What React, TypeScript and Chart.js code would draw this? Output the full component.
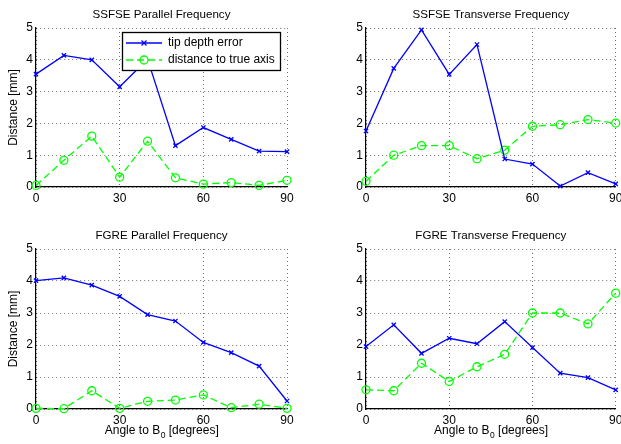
import React, { useEffect, useRef } from "react";
import { Chart, registerables } from "chart.js";

Chart.register(...registerables);

const ANGLES = [0, 10, 20, 30, 40, 50, 60, 70, 80, 90];
const X_TICKS = [0, 30, 60, 90];
const Y_TICKS = [0, 1, 2, 3, 4, 5];

const SERIES_NAMES = ["tip depth error", "distance to true axis"];
const TITLES = [
  "SSFSE Parallel Frequency",
  "SSFSE Transverse Frequency",
  "FGRE Parallel Frequency",
  "FGRE Transverse Frequency",
];
const Y_LABEL = "Distance [mm]";
const X_LABEL_MAIN = "Angle to B";
const X_LABEL_SUB = "0";
const X_LABEL_REST = " [degrees]";

const SSFSE_PAR_TIP = [3.55, 4.14, 4.0, 3.15, 4.02, 1.3, 1.87, 1.5, 1.13, 1.11];
const SSFSE_PAR_DIST = [0.05, 0.84, 1.6, 0.31, 1.44, 0.29, 0.09, 0.14, 0.05, 0.21];
const SSFSE_TRA_TIP = [1.76, 3.73, 4.94, 3.54, 4.48, 0.88, 0.72, 0.03, 0.45, 0.1];
const SSFSE_TRA_DIST = [0.18, 1.0, 1.3, 1.3, 0.89, 1.16, 1.91, 1.96, 2.12, 2.01];
const FGRE_PAR_TIP = [4.01, 4.1, 3.87, 3.52, 2.95, 2.75, 2.08, 1.76, 1.34, 0.25];
const FGRE_PAR_DIST = [0.02, 0.01, 0.57, 0.02, 0.24, 0.28, 0.44, 0.04, 0.15, 0.02];
const FGRE_TRA_TIP = [1.95, 2.63, 1.74, 2.21, 2.04, 2.73, 1.92, 1.12, 0.98, 0.6];
const FGRE_TRA_DIST = [0.6, 0.57, 1.43, 0.86, 1.32, 1.71, 3.0, 3.0, 2.66, 3.62];

const FONT = '"Liberation Sans", Arial, Helvetica, sans-serif';
const BLUE = "#0000ff";
const GREEN = "#00ff00";
const DASH = [7, 4];
const LW = 1.3;

type Props = {
  left: number;
  top: number;
  width: number;
  height: number;
  padTop: number;
  padRight: number;
  xAxisH: number;
  title: string;
  tip: number[];
  dist: number[];
  yLabel: boolean;
  xLabel: boolean;
  legend: boolean;
};

function Subplot(p: Props) {
  const ref = useRef<HTMLCanvasElement | null>(null);
  useEffect(() => {
    if (!ref.current) return;
    const textPlugin = {
      id: "mtext",
      afterDraw(chart: any) {
        const ctx = chart.ctx as CanvasRenderingContext2D;
        const a = chart.chartArea;
        ctx.save();
        ctx.fillStyle = "#000";
        ctx.font = `11.6px ${FONT}`;
        ctx.textAlign = "center";
        ctx.textBaseline = "middle";
        const cx = (a.left + a.right) / 2;
        ctx.fillText(p.title, cx, a.top - 13);
        ctx.font = `12px ${FONT}`;
        if (p.yLabel) {
          ctx.save();
          ctx.translate(14, (a.top + a.bottom) / 2);
          ctx.rotate(-Math.PI / 2);
          ctx.fillText(Y_LABEL, 0, 0);
          ctx.restore();
        }
        if (p.xLabel) {
          ctx.textAlign = "left";
          const w1 = ctx.measureText(X_LABEL_MAIN).width;
          ctx.font = `8.5px ${FONT}`;
          const w2 = ctx.measureText(X_LABEL_SUB).width;
          ctx.font = `12px ${FONT}`;
          const w3 = ctx.measureText(X_LABEL_REST).width;
          let x = cx - (w1 + w2 + w3) / 2;
          const y = a.bottom + 22;
          ctx.fillText(X_LABEL_MAIN, x, y);
          x += w1;
          ctx.font = `8.5px ${FONT}`;
          ctx.fillText(X_LABEL_SUB, x + 0.5, y + 4.5);
          x += w2 + 0.5;
          ctx.font = `12px ${FONT}`;
          ctx.fillText(X_LABEL_REST, x, y);
        }
        if (p.legend) {
          const bx = a.left + 86;
          const by = a.top + 4;
          const bw = 158;
          const bh = 38;
          ctx.fillStyle = "#fff";
          ctx.fillRect(bx, by, bw, bh);
          ctx.strokeStyle = "#000";
          ctx.lineWidth = 1.3;
          ctx.strokeRect(bx + 0.5, by + 0.5, bw, bh);
          const rows = [by + 11, by + 28];
          ctx.lineWidth = LW;
          ctx.strokeStyle = BLUE;
          ctx.beginPath();
          ctx.moveTo(bx + 4, rows[0]);
          ctx.lineTo(bx + 40, rows[0]);
          ctx.stroke();
          const mx = bx + 22;
          ctx.beginPath();
          ctx.moveTo(mx - 2.5, rows[0] - 2.5);
          ctx.lineTo(mx + 2.5, rows[0] + 2.5);
          ctx.moveTo(mx - 2.5, rows[0] + 2.5);
          ctx.lineTo(mx + 2.5, rows[0] - 2.5);
          ctx.stroke();
          ctx.strokeStyle = GREEN;
          ctx.setLineDash(DASH);
          ctx.beginPath();
          ctx.moveTo(bx + 4, rows[1]);
          ctx.lineTo(bx + 40, rows[1]);
          ctx.stroke();
          ctx.setLineDash([]);
          ctx.beginPath();
          ctx.arc(mx, rows[1], 4, 0, Math.PI * 2);
          ctx.stroke();
          ctx.fillStyle = "#000";
          ctx.textAlign = "left";
          ctx.font = `12px ${FONT}`;
          ctx.fillText(SERIES_NAMES[0], bx + 46, rows[0]);
          ctx.fillText(SERIES_NAMES[1], bx + 46, rows[1]);
        }
        ctx.restore();
      },
    };
    const chart = new Chart(ref.current, {
      type: "line",
      data: {
        datasets: [
          {
            label: SERIES_NAMES[0],
            data: ANGLES.map((x, i) => ({ x, y: p.tip[i] })),
            borderColor: BLUE,
            borderWidth: LW,
            pointStyle: "crossRot",
            pointRadius: 3,
            pointBorderColor: BLUE,
            pointBorderWidth: LW,
            pointBackgroundColor: "transparent",
            clip: false as any,
            tension: 0,
          },
          {
            label: SERIES_NAMES[1],
            data: ANGLES.map((x, i) => ({ x, y: p.dist[i] })),
            borderColor: GREEN,
            borderWidth: LW,
            borderDash: DASH,
            pointStyle: "circle",
            pointRadius: 4,
            pointBorderColor: GREEN,
            pointBorderWidth: LW,
            pointBackgroundColor: "transparent",
            clip: false as any,
            tension: 0,
          },
        ],
      },
      options: {
        responsive: false,
        animation: false,
        events: [],
        layout: { padding: { left: 0, top: p.padTop, right: p.padRight, bottom: 0 } },
        plugins: {
          legend: { display: false },
          title: { display: false },
          tooltip: { enabled: false },
        },
        scales: {
          x: {
            type: "linear",
            min: 0,
            max: 90,
            afterBuildTicks: (s: any) => {
              s.ticks = X_TICKS.map((v) => ({ value: v }));
            },
            afterFit: (s: any) => {
              s.height = p.xAxisH;
              s.paddingLeft = 0;
              s.paddingRight = 0;
            },
            ticks: {
              color: "#000",
              font: { family: FONT, size: 12 },
              padding: 4,
              maxRotation: 0,
              autoSkip: false,
            },
            grid: {
              color: "rgba(0,0,0,0.55)",
              drawTicks: false,
              lineWidth: 1,
            },
            border: { display: true, color: "#000", width: 1.2, dash: [1, 3] },
          },
          y: {
            type: "linear",
            min: 0,
            max: 5,
            afterBuildTicks: (s: any) => {
              s.ticks = Y_TICKS.map((v) => ({ value: v }));
            },
            afterFit: (s: any) => {
              s.width = 36;
              s.paddingTop = 0;
              s.paddingBottom = 0;
            },
            ticks: {
              color: "#000",
              font: { family: FONT, size: 12 },
              padding: 3,
              autoSkip: false,
            },
            grid: {
              color: "rgba(0,0,0,0.55)",
              drawTicks: false,
              lineWidth: 1,
            },
            border: { display: true, color: "#000", width: 1.2, dash: [1, 3] },
          },
        },
      } as any,
      plugins: [textPlugin],
    });
    return () => chart.destroy();
  }, []);
  return (
    <canvas
      ref={ref}
      width={p.width}
      height={p.height}
      style={{
        position: "absolute",
        left: p.left,
        top: p.top,
        width: p.width,
        height: p.height,
        display: "block",
      }}
    />
  );
}

export default function App() {
  useEffect(() => {
    document.body.style.overflow = "hidden";
    document.body.style.background = "#fff";
  }, []);
  return (
    <div style={{ position: "absolute", left: 0, top: 0, width: 621, height: 444, overflow: "hidden", background: "#fff" }}>
      <Subplot left={0} top={0} width={310} height={215} padTop={28} padRight={23} xAxisH={28}
        title={TITLES[0]} tip={SSFSE_PAR_TIP} dist={SSFSE_PAR_DIST} yLabel xLabel={false} legend />
      <Subplot left={330} top={0} width={291} height={215} padTop={28} padRight={4} xAxisH={28}
        title={TITLES[1]} tip={SSFSE_TRA_TIP} dist={SSFSE_TRA_DIST} yLabel={false} xLabel={false} legend={false} />
      <Subplot left={0} top={222} width={310} height={222} padTop={27} padRight={23} xAxisH={35}
        title={TITLES[2]} tip={FGRE_PAR_TIP} dist={FGRE_PAR_DIST} yLabel xLabel legend={false} />
      <Subplot left={330} top={222} width={291} height={222} padTop={27} padRight={4} xAxisH={35}
        title={TITLES[3]} tip={FGRE_TRA_TIP} dist={FGRE_TRA_DIST} yLabel={false} xLabel legend={false} />
    </div>
  );
}
